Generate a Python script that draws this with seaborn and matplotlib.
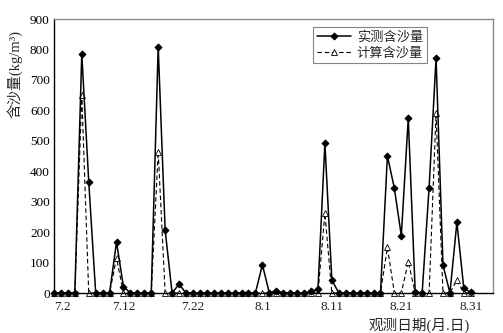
import matplotlib
matplotlib.use("Agg")
import matplotlib.pyplot as plt
import seaborn as sns
import pandas as pd
import numpy as np

# day index 0 = 7.2 ... 60 = 8.31
days = list(range(61))
measured = [0, 0, 0, 0, 785, 366, 0, 0, 0, 167,
            21, 0, 0, 0, 0, 809, 207, 0, 29, 0,
            0, 0, 0, 0, 0, 0, 0, 0, 0, 0,
            93, 0, 8, 0, 0, 0, 0, 5, 12, 492,
            43, 0, 0, 0, 0, 0, 0, 0, 450, 344,
            188, 574, 4, 0, 346, 771, 92, 0, 232, 15,
            2]
computed = [0, 0, 0, 0, 650, 0, 0, 0, 0, 115,
            0, 0, 0, 0, 0, 464, 0, 0, 0, 0,
            0, 0, 0, 0, 0, 0, 0, 0, 0, 0,
            0, 0, 0, 0, 0, 0, 0, 0, 0, 262,
            0, 0, 0, 0, 0, 0, 0, 0, 150, 0,
            0, 103, 0, 0, 0, 590, 0, 0, 43, 0,
            0]
tick_pos = [0, 10, 20, 30, 40, 50, 60]
tick_labels = ['7.2', '7.12', '7.22', '8.1', '8.11', '8.21', '8.31']
series_names = ['实测含沙量', '计算含沙量']

sns.set_style("white")
plt.rcParams['font.family'] = ['Liberation Serif', 'Noto Sans CJK SC', 'DejaVu Sans']
plt.rcParams['axes.unicode_minus'] = False

df = pd.DataFrame({'day': days, series_names[0]: measured, series_names[1]: computed})

fig = plt.figure(figsize=(5.03, 3.33), dpi=100)
ax = fig.add_axes([54/503, 1-293/333, 439/503, 274/333])

sns.lineplot(data=df, x='day', y=series_names[0], ax=ax, color='black', lw=1.1,
             marker='D', markersize=3.5, markerfacecolor='black', markeredgecolor='black',
             label=series_names[0], clip_on=False, zorder=3)
sns.lineplot(data=df, x='day', y=series_names[1], ax=ax, color='black', lw=0.8,
             linestyle=(0, (4, 2.5)), marker='^', markersize=5, markerfacecolor='white',
             markeredgecolor='black', markeredgewidth=0.6,
             label=series_names[1], clip_on=False, zorder=2)

ax.set_xlim(0, 63.2)
ax.set_ylim(0, 900)
ax.set_yticks(range(0, 901, 100))
ax.set_xticks(tick_pos)
ax.set_xticklabels(tick_labels)
ax.tick_params(axis='both', direction='in', length=4, width=0.8, labelsize=9.5, colors='black')
ax.tick_params(axis='x', pad=6)
ax.tick_params(axis='y', pad=3)
xl = ax.get_xticklabels()
for lab in xl:
    lab.set_color('#222222')
xl[0].set_horizontalalignment('left')

for s in ['left', 'bottom']:
    ax.spines[s].set_color('black')
    ax.spines[s].set_linewidth(1.0)
for s in ['top', 'right']:
    ax.spines[s].set_color('#8a8a8a')
    ax.spines[s].set_linewidth(1.0)

ax.set_ylabel('含沙量(kg/m³)', fontsize=10.5)
ax.yaxis.set_label_coords(-0.072, 0.80)
ax.set_xlabel('')
fig.text(419/503, 1-325/333, '观测日期(月.日)', ha='center', va='center', fontsize=10.5)

leg = ax.legend(loc='upper left', bbox_to_anchor=((313-54)/439, (293-27)/274),
                frameon=True, fancybox=False, fontsize=9.5, handlelength=2.6,
                borderpad=0.3, labelspacing=0.25, handletextpad=0.4, borderaxespad=0)
leg.get_frame().set_edgecolor('#666666')
leg.get_frame().set_linewidth(0.8)

fig.savefig('out.png', dpi=100)
